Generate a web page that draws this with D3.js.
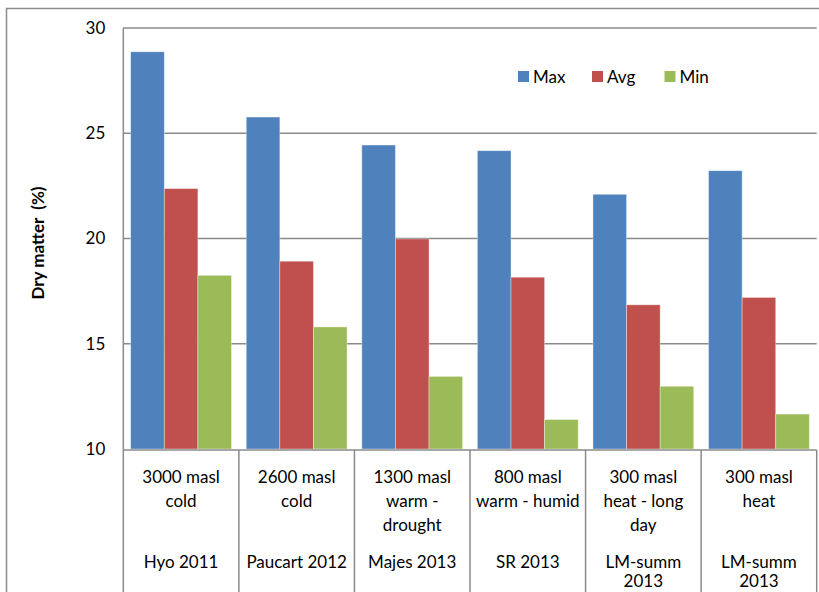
<!DOCTYPE html>
<html>
<head>
<meta charset="utf-8">
<script src="https://cdn.jsdelivr.net/npm/d3@7"></script>
<style>
  html, body { margin: 0; padding: 0; background: #fff; }
  svg { display: block; }
  text { font-family: Lato, "Open Sans", sans-serif; fill: #000; }
</style>
</head>
<body>
<svg id="chart" width="819" height="592"></svg>
<script>
// ---- data ----
const categories = ["c1", "c2", "c3", "c4", "c5", "c6"];
const innerLabels = [
  ["3000 masl", "cold"],
  ["2600 masl", "cold"],
  ["1300 masl", "warm -", "drought"],
  ["800 masl", "warm - humid"],
  ["300 masl", "heat - long", "day"],
  ["300 masl", "heat"]
];
const outerLabels = [
  ["Hyo 2011"],
  ["Paucart 2012"],
  ["Majes 2013"],
  ["SR 2013"],
  ["LM-summ", "2013"],
  ["LM-summ", "2013"]
];
const seriesNames = ["Max", "Avg", "Min"];
const maxValues = [28.87, 25.77, 24.44, 24.17, 22.1, 23.22];
const avgValues = [22.37, 18.92, 19.98, 18.16, 16.85, 17.2];
const minValues = [18.25, 15.8, 13.45, 11.4, 12.98, 11.66];
const yTicks = [10, 15, 20, 25, 30];
const yTitle = "Dry matter  (%)";

const colors = ["#4F81BD", "#C0504D", "#9BBB59"];
const seriesValues = [maxValues, avgValues, minValues];

(function () {
// ---- layout ----
const svg = d3.select("#chart");
const W = 819, H = 592;
const pL = 123.3, pR = 816.7, pT = 28, pB = 449;
const FS = "17px";

// outer chart border
svg.append("rect")
  .attr("x", 6.5).attr("y", 8.5)
  .attr("width", 840).attr("height", 620)
  .attr("fill", "#fff").attr("stroke", "#8c8c8c").attr("stroke-width", 1.5);

const y = d3.scaleLinear().domain([10, 30]).range([pB, pT]);
const x0 = d3.scaleBand().domain(categories).range([pL, pR]).paddingInner(0).paddingOuter(0);
const x1 = d3.scaleBand().domain(seriesNames).range([0, x0.bandwidth()]).paddingInner(0).paddingOuter(0.22);

// gridlines
svg.append("g").selectAll("line")
  .data(yTicks.filter(d => d > 10))
  .join("line")
  .attr("x1", pL).attr("x2", pR)
  .attr("y1", d => y(d)).attr("y2", d => y(d))
  .attr("stroke", "#8a8a8a").attr("stroke-width", 1.5);

// bars
const rows = categories.map((c, i) => ({
  cat: c,
  vals: seriesNames.map((s, j) => ({ s, j, v: seriesValues[j][i] }))
}));
svg.append("g").selectAll("g")
  .data(rows)
  .join("g")
  .attr("transform", d => `translate(${x0(d.cat)},0)`)
  .selectAll("rect")
  .data(d => d.vals)
  .join("rect")
  .attr("x", d => x1(d.s))
  .attr("width", x1.bandwidth())
  .attr("y", d => y(d.v))
  .attr("height", d => y(10) - y(d.v))
  .attr("fill", d => colors[d.j])
  .attr("stroke", "rgba(255,255,255,0.45)")
  .attr("stroke-width", 0.8);

// y axis
const yAxis = d3.axisLeft(y).tickValues(yTicks).tickSize(0).tickPadding(18);
const gy = svg.append("g").attr("transform", `translate(${pL},0)`).call(yAxis);
gy.select(".domain").remove();
gy.selectAll("text").style("font-size", FS).style("font-family", "Lato, 'Open Sans', sans-serif").attr("fill", "#000");

// axis lines
svg.append("line").attr("x1", pL).attr("x2", pL).attr("y1", pT).attr("y2", H)
  .attr("stroke", "#8a8a8a").attr("stroke-width", 1.5);
svg.append("line").attr("x1", pL).attr("x2", pR).attr("y1", pB + 1).attr("y2", pB + 1)
  .attr("stroke", "#8a8a8a").attr("stroke-width", 1.5);

// category boundary lines
const bounds = categories.map(c => x0(c)).concat([pR]);
svg.append("g").selectAll("line")
  .data(bounds.slice(1))
  .join("line")
  .attr("x1", d => d).attr("x2", d => d)
  .attr("y1", pB + 1).attr("y2", H)
  .attr("stroke", "#8a8a8a").attr("stroke-width", 1.5);

// category labels
const lab = svg.append("g");
categories.forEach((c, i) => {
  const cx = x0(c) + x0.bandwidth() / 2;
  innerLabels[i].forEach((t, k) => {
    lab.append("text").attr("x", cx).attr("y", 482.5 + k * 24)
      .attr("text-anchor", "middle")
      .style("font-size", FS).text(t);
  });
  outerLabels[i].forEach((t, k) => {
    lab.append("text").attr("x", cx).attr("y", 567.5 + k * 19.5)
      .attr("text-anchor", "middle")
      .style("font-size", FS).text(t);
  });
});

// y title
svg.append("text")
  .attr("transform", "translate(37,243) rotate(-90)")
  .attr("text-anchor", "middle").attr("dominant-baseline", "central")
  .style("font-size", "17px").style("font-weight", "bold")
  .style("white-space", "pre")
  .text(yTitle);

// legend
const legendX = [518, 592, 664.5];
const lg = svg.append("g");
seriesNames.forEach((s, i) => {
  lg.append("rect").attr("x", legendX[i]).attr("y", 71).attr("width", 11).attr("height", 11).attr("fill", colors[i]);
  lg.append("text").attr("x", legendX[i] + 15).attr("y", 83)
    .style("font-size", FS).text(s);
});
})();
</script>
</body>
</html>
